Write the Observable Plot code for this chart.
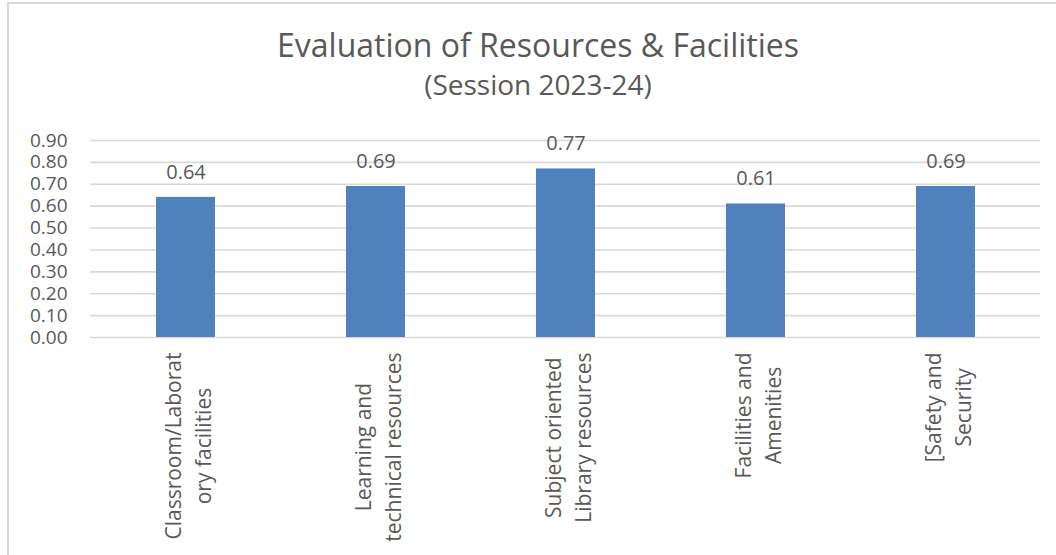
<!DOCTYPE html>
<html>
<head>
<meta charset="utf-8">
<script src="https://cdn.jsdelivr.net/npm/d3@7"></script>
<script src="https://cdn.jsdelivr.net/npm/@observablehq/plot@0.6"></script>
<style>
  html, body { margin: 0; padding: 0; background: #ffffff; }
  #wrap { position: relative; width: 1056px; height: 555px; overflow: hidden; background: #ffffff; font-family: "Open Sans", sans-serif; }
  #frame { position: absolute; left: 7px; top: 2px; width: 1100px; height: 600px; border-left: 2px solid #d9d9d9; border-top: 2px solid #d9d9d9; box-sizing: border-box; }
  .ttl { position: absolute; left: 0; width: 1076px; text-align: center; color: #595959; white-space: nowrap; }
  #title { top: 29px; font-size: 32px; line-height: 32px; }
  #subtitle { top: 70px; font-size: 28px; line-height: 28px; }
  #chart { position: absolute; left: 0; top: 0; }
</style>
</head>
<body>
<div id="wrap">
  <div id="frame"></div>
  <div id="title" class="ttl">Evaluation of Resources &amp; Facilities</div>
  <div id="subtitle" class="ttl">(Session 2023-24)</div>
  <div id="chart"></div>
</div>
<script>
// ---- data ----
const categories = [
  "Classroom/Laboratory facilities",
  "Learning and technical resources",
  "Subject oriented Library resources",
  "Facilities and Amenities",
  "[Safety and Security"
];
const xTickLabels = [
  "Classroom/Laborat\nory facilities",
  "Learning and\ntechnical resources",
  "Subject oriented\nLibrary resources",
  "Facilities and\nAmenities",
  "[Safety and\nSecurity"
];
const values = [0.64, 0.69, 0.77, 0.61, 0.69];
const yTicks = [0, 0.1, 0.2, 0.3, 0.4, 0.5, 0.6, 0.7, 0.8, 0.9];

// ---- build ----
const data = categories.map((c, i) => ({category: c, value: values[i]}));
const textColor = "#595959";
const labelFont = 21;

const canvas = document.createElement("canvas");
const ctx = canvas.getContext("2d");
ctx.font = `${labelFont}px "Open Sans"`;
const measure = (s) => ctx.measureText(s).width;

const xLabelMarks = categories.map((c, i) => {
  const lines = xTickLabels[i].split("\n");
  const w = Math.max(...lines.map(measure));
  return Plot.text([c], {
    x: (d) => d,
    frameAnchor: "bottom",
    rotate: -90,
    textAnchor: "middle",
    lineAnchor: "middle",
    lineHeight: 1.43,
    dy: 15 + w / 2,
    dx: 0,
    text: () => xTickLabels[i],
    fontSize: labelFont,
    fill: textColor
  });
});

const chart = Plot.plot({
  width: 1056,
  height: 555,
  marginTop: 140,
  marginBottom: 218,
  marginLeft: 90,
  marginRight: 16,
  style: {fontFamily: "'Open Sans', sans-serif", fontSize: "19px", color: textColor, background: "transparent"},
  x: {domain: categories, paddingInner: 0.69, paddingOuter: 0.345, axis: null},
  y: {domain: [0, 0.9]},
  marks: [
    Plot.gridY(yTicks, {stroke: "#d9d9d9", strokeOpacity: 1, strokeWidth: 1.6}),
    Plot.axisY(yTicks, {tickSize: 0, tickPadding: 23, tickFormat: (d) => d.toFixed(2), fontSize: 19, fill: textColor, label: null}),
    Plot.barY(data, {x: "category", y: "value", fill: "#4f81bd"}),
    Plot.text(data, {x: "category", y: "value", text: (d) => d.value.toFixed(2), dy: -25, lineAnchor: "middle", fontSize: 20, fill: textColor}),
    ...xLabelMarks
  ]
});
document.getElementById("chart").appendChild(chart);
</script>
</body>
</html>
